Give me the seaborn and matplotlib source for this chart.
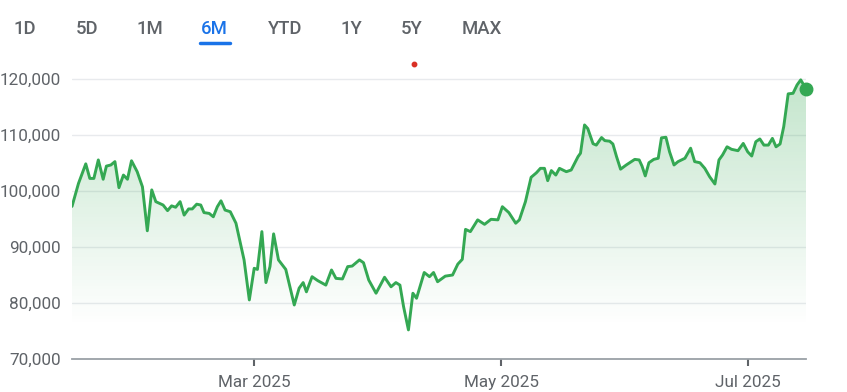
import numpy as np
import pandas as pd
import matplotlib
matplotlib.use("Agg")
import matplotlib.pyplot as plt
import matplotlib.dates as mdates
from matplotlib.lines import Line2D
from matplotlib.colors import LinearSegmentedColormap
import seaborn as sns

# ---------------- data ----------------
start_date = "2025-01-15"
day_offsets = [0, 1.6, 3.4, 4.4, 5.4, 6.5, 7.7, 8.5, 9.6, 10.6, 11.6, 12.7, 13.7, 14.7,
               16.1, 17.4, 18.6, 19.7, 20.7, 22.5, 23.6, 24.6, 25.6, 26.7, 27.7, 28.8,
               29.7, 30.8, 31.8, 32.6, 33.9, 34.9, 35.9, 36.8, 37.8, 39.1, 40.5, 42.5,
               43.8, 45.0, 45.8, 46.9, 47.9, 48.9, 49.8, 51.0, 52.8, 54.9, 56.1, 57.1,
               57.9, 59.3, 60.7, 62.7, 64.1, 65.2, 66.8, 68.1, 69.2, 71.0, 72.0, 73.3,
               75.1, 77.2, 78.8, 80.0, 81.0, 81.9, 83.1, 84.2, 85.1, 87.0, 88.3, 89.3,
               90.3, 92.2, 94.0, 95.3, 96.4, 97.2, 98.4, 100.2, 101.9, 103.5, 105.2,
               106.3, 107.9, 109.6, 110.5, 112.0, 113.4, 114.7, 115.7, 116.7, 117.5,
               118.4, 119.5, 120.4, 122.1, 123.3, 125.0, 125.6, 126.6, 127.4, 128.7,
               129.5, 130.8, 131.6, 132.8, 133.6, 134.5, 135.5, 136.9, 139.0, 140.1,
               140.8, 141.6, 142.5, 143.7, 144.8, 145.6, 146.7, 147.6, 148.7, 149.7,
               151.4, 152.8, 153.8, 155.1, 156.3, 157.5, 158.8, 159.8, 160.7, 161.8,
               162.9, 164.5, 165.8, 166.9, 167.9, 168.9, 169.9, 170.9, 172.0, 173.0,
               173.9, 174.9, 175.8, 176.9, 178.1, 179.1, 180.0, 181.3]
prices = [97300, 101400, 104900, 102300, 102300, 105600, 102150, 104500, 104700, 105300,
          100650, 102900, 102150, 105450, 103500, 100800, 92950, 100250, 98150, 97550,
          96550, 97400, 97150, 98150, 95750, 96850, 96850, 97700, 97550, 96200, 96050,
          95450, 97250, 98300, 96650, 96350, 94300, 87750, 80600, 86250, 86050, 92800,
          83700, 86550, 92400, 87750, 86050, 79700, 82700, 83700, 82050, 84750, 84050,
          83250, 85950, 84450, 84350, 86550, 86650, 87750, 87250, 84150, 81800, 84650,
          82950, 83700, 83250, 79400, 75250, 81800, 80900, 85500, 84750, 85500, 83850,
          84850, 85050, 87000, 87850, 93200, 92800, 94900, 94100, 95000, 94900, 97250,
          96200, 94300, 94900, 98150, 102500, 103300, 104100, 104100, 101900, 103700,
          102900, 104100, 103500, 103800, 106200, 106800, 111850, 111200, 108500,
          108250, 109600, 109050, 108950, 108450, 106200, 103950, 104700, 105700,
          105600, 104500, 102750, 105100, 105700, 105900, 109550, 109650, 107050,
          104700, 105300, 105900, 107700, 105300, 105100, 104100, 102600, 101300,
          105600, 106500, 107950, 107500, 107250, 108550, 107050, 106300, 108850,
          109350, 108250, 108250, 109450, 107950, 108450, 111550, 117400, 117500,
          119000, 119900, 118300]
y_ticks = [70000, 80000, 90000, 100000, 110000, 120000]
x_tick_dates = ["2025-03-01", "2025-05-01", "2025-07-01"]
x_tick_labels = ["Mar 2025", "May 2025", "Jul 2025"]
tabs = ["1D", "5D", "1M", "6M", "YTD", "1Y", "5Y", "MAX"]
active_tab = "6M"

dates = pd.Timestamp(start_date) + pd.to_timedelta(day_offsets, unit="D")
df = pd.DataFrame({"date": dates, "price": prices})

# ---------------- style ----------------
sns.set_theme(style="white")
plt.rcParams["font.family"] = ["Roboto", "DejaVu Sans"]

GREEN = "#34a853"
LABEL = "#5f6368"

W, H = 847, 392
fig = plt.figure(figsize=(W / 100, H / 100), dpi=100)
fig.patch.set_facecolor("white")

left_px, right_px, bottom_px, top_px = 72, 806, 359.3, 60
ax = fig.add_axes([left_px / W, 1 - bottom_px / H,
                   (right_px - left_px) / W, (bottom_px - top_px) / H])
ax.set_facecolor("white")

ymin = 70000
ymax = 70000 + (bottom_px - top_px) / 56.0 * 10000
xmin = dates[0]
xmax = dates[-1]

# gridlines
for yt in y_ticks[1:]:
    ax.axhline(yt, color="#e8eaed", lw=1.0, zorder=0)

# gradient fill under the line
cmap = LinearSegmentedColormap.from_list(
    "g", [(0.204, 0.659, 0.325, 0.0), (0.204, 0.659, 0.325, 0.30)])
grad = np.linspace(0, 1, 256).reshape(-1, 1)
x0n, x1n = mdates.date2num(xmin), mdates.date2num(xmax)
img = ax.imshow(grad, extent=[x0n, x1n, 76000, 121000], origin="lower",
                cmap=cmap, aspect="auto", zorder=1, interpolation="bicubic")
poly = ax.fill_between(df["date"], df["price"], ymin, color="none", lw=0)
path = poly.get_paths()[0]
img.set_clip_path(path, transform=ax.transData)

sns.lineplot(data=df, x="date", y="price", ax=ax, color=GREEN, lw=2.1, zorder=3,
             solid_joinstyle="round", solid_capstyle="round")
ax.plot([df["date"].iloc[-1]], [df["price"].iloc[-1]], "o", color=GREEN,
        markersize=9, zorder=4, clip_on=False)
ax.set_xlim(xmin, xmax)
ax.set_ylim(ymin, ymax)

# axes styling
for s in ["top", "right", "left"]:
    ax.spines[s].set_visible(False)
ax.spines["bottom"].set_color("#9aa0a6")
ax.spines["bottom"].set_linewidth(1.3)
ax.set_xlabel("")
ax.set_ylabel("")

ax.set_yticks(y_ticks)
ax.set_yticklabels([f"{v:,}" for v in y_ticks])
ax.tick_params(axis="y", length=0, pad=8, labelsize=12.3, labelcolor=LABEL)

ax.set_xticks(pd.to_datetime(x_tick_dates))
ax.set_xticklabels(x_tick_labels)
ax.tick_params(axis="x", length=5, width=1.5, color="#5f6368", pad=6,
               labelsize=12.3, labelcolor=LABEL, direction="out", bottom=True)

# top range tabs
tab_x = [25, 87, 150, 214, 285, 351, 412, 482]
for t, xp in zip(tabs, tab_x):
    fig.text(xp / W, 1 - 29 / H, t, ha="center", va="center", fontsize=13.3,
             fontweight="medium",
             color="#1a73e8" if t == active_tab else LABEL)
fig.add_artist(Line2D([200 / W, 230 / W], [1 - 42.5 / H, 1 - 42.5 / H],
                      color="#1a73e8", lw=2.5, transform=fig.transFigure,
                      solid_capstyle="round"))
fig.add_artist(Line2D([414 / W], [1 - 64 / H], marker="o", markersize=3.2,
                      color="#d93025", lw=0, transform=fig.transFigure))

fig.savefig("out.png", dpi=100, facecolor="white")
